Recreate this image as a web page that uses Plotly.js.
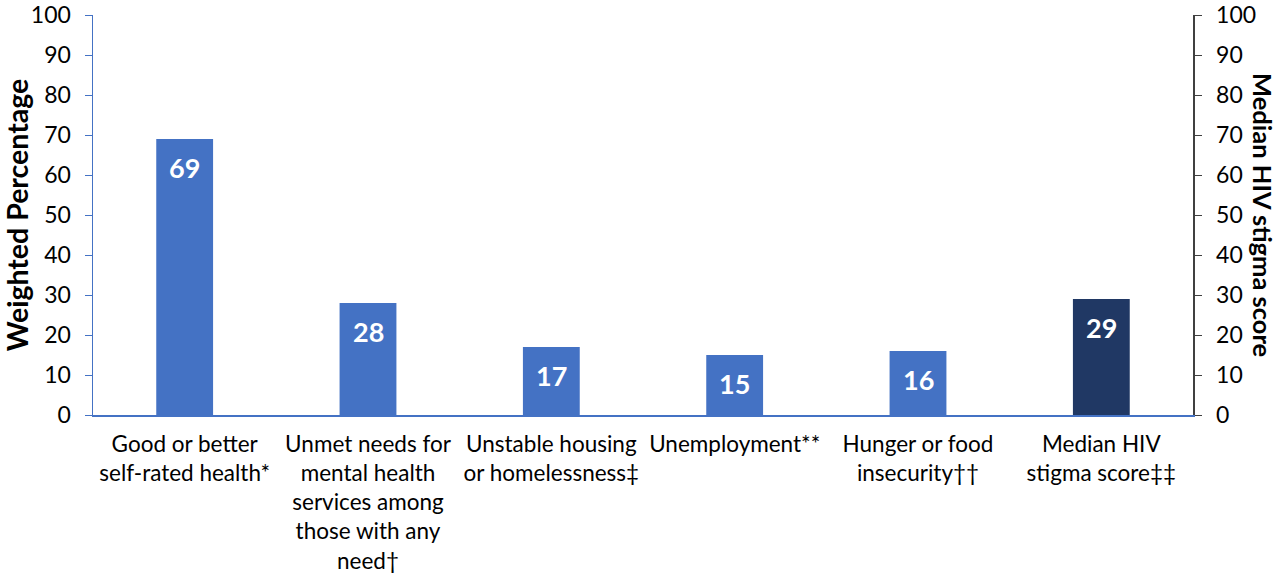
<!DOCTYPE html>
<html><head><meta charset="utf-8">
<script src="https://cdn.plot.ly/plotly-3.0.1.min.js"></script>
<style>body{margin:0;background:#fff}#c{width:1277px;height:576px}</style>
</head><body><div id="c"></div>
<script>
const categories = ["Good or better<br>self-rated health*","Unmet needs for<br>mental health<br>services among<br>those with any<br>need†","Unstable housing<br>or homelessness‡","Unemployment**","Hunger or food<br>insecurity††","Median HIV<br>stigma score‡‡"];
const pctCategories = categories.slice(0,5);
const pctValues = [69, 28, 17, 15, 16];
const stigmaCategories = categories.slice(5);
const stigmaValues = [29];
const tickVals = [0,10,20,30,40,50,60,70,80,90,100];

const FONT = "Lato, 'Open Sans', sans-serif";
const traces = [
  {type:'bar', x:pctCategories, y:pctValues, yaxis:'y', marker:{color:'#4472C4'}, width:0.31, hoverinfo:'skip'},
  {type:'bar', x:stigmaCategories, y:stigmaValues, yaxis:'y2', marker:{color:'#203864'}, width:0.31, hoverinfo:'skip'}
];
const ann = [];
pctCategories.forEach((c,i)=>ann.push({x:c, y:pctValues[i], xref:'x', yref:'y', text:String(pctValues[i]), showarrow:false, yanchor:'top', yshift:-10, font:{family:FONT, size:27, color:'#fff', weight:'bold'}}));
stigmaCategories.forEach((c,i)=>ann.push({x:c, y:stigmaValues[i], xref:'x', yref:'y2', text:String(stigmaValues[i]), showarrow:false, yanchor:'top', yshift:-10, font:{family:FONT, size:27, color:'#fff', weight:'bold'}}));
ann.push({xref:'paper', yref:'paper', x:1, xanchor:'center', yanchor:'middle', xshift:70, y:0.5, text:'Median HIV stigma score', textangle:90, showarrow:false, font:{family:FONT, size:25.5, color:'#000', weight:'bold'}});

const layout = {
  width:1277, height:576,
  margin:{l:93, r:84, t:15, b:161},
  paper_bgcolor:'#fff', plot_bgcolor:'#fff',
  showlegend:false, barmode:'overlay',
  font:{family:FONT, size:23, color:'#000'},
  xaxis:{type:'category', categoryarray:categories, showline:true, linecolor:'#4472C4', linewidth:1.5, ticks:'', tickfont:{size:22.5}, ticklabelstandoff:8, range:[-0.5,5.5]},
  yaxis:{range:[0,100], tickvals:tickVals, showgrid:false, zeroline:false, showline:true, linecolor:'#4472C4', linewidth:1.5, ticks:'outside', ticklen:7, tickcolor:'#4472C4', tickfont:{size:23}, ticklabelstandoff:9,
    title:{text:'Weighted Percentage', font:{size:28.5, weight:'bold'}, standoff:9}},
  yaxis2:{range:[0,100], tickvals:tickVals, overlaying:'y', side:'right', showgrid:false, zeroline:false, showline:true, linecolor:'#404040', linewidth:1.5, ticks:'outside', ticklen:7, tickcolor:'#404040', tickfont:{size:23}, ticklabelstandoff:10},
  annotations:ann
};
Plotly.newPlot('c', traces, layout, {staticPlot:true, displayModeBar:false});
</script></body></html>
